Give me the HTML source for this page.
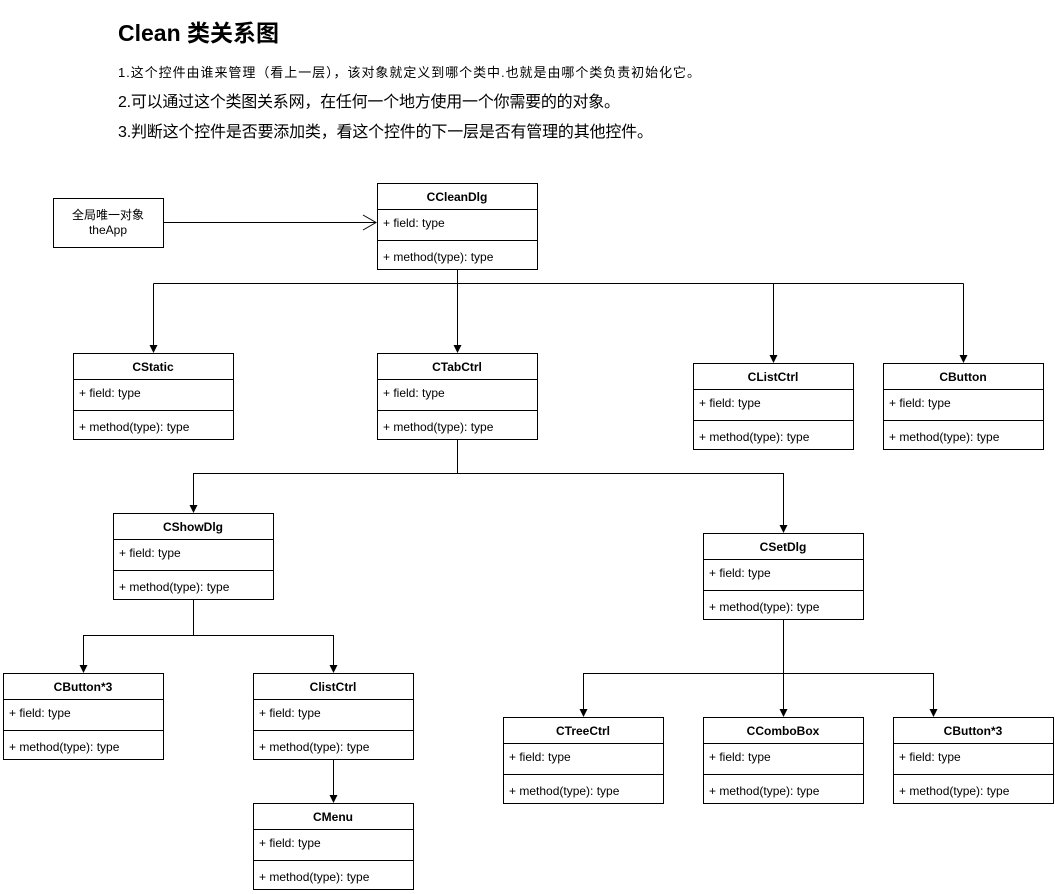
<!DOCTYPE html>
<html><head><meta charset="utf-8"><style>
html,body{margin:0;padding:0;background:#fff;}
svg{display:block;}
text{font-family:"Liberation Sans","Noto Sans CJK SC",sans-serif;fill:#000;}
</style></head><body>
<svg width="1055" height="894" viewBox="0 0 1055 894" xmlns="http://www.w3.org/2000/svg">
<text x="118" y="41" font-size="23" font-weight="bold">Clean 类关系图</text>
<text x="118" y="77" font-size="13" textLength="582">1.这个控件由谁来管理（看上一层），该对象就定义到哪个类中.也就是由哪个类负责初始化它。</text>
<text x="118" y="107" font-size="16" textLength="502">2.可以通过这个类图关系网，在任何一个地方使用一个你需要的的对象。</text>
<text x="118" y="137" font-size="16" textLength="535">3.判断这个控件是否要添加类，看这个控件的下一层是否有管理的其他控件。</text>

<g fill="none" stroke="#000" stroke-width="1">
<rect x="53.5" y="198.5" width="110" height="49"/>
<path d="M163.5 222.5 H376"/>
<path d="M363 215 L376 222.5 L363 230"/>
<path d="M457.5 269 V283.5 M153.5 283.5 H963.5"/>
<path d="M153.5 283.5 V346"/>
<path d="M457.5 283.5 V346"/>
<path d="M773.5 283.5 V356"/>
<path d="M963.5 283.5 V356"/>
<path d="M457.5 439 V473.5 H783.5 V526"/>
<path d="M457.5 473.5 H193.5 V506"/>
<path d="M193.5 599 V635.5 H83.5 V666"/>
<path d="M193.5 635.5 H333.5 V666"/>
<path d="M333.5 759 V796"/>
<path d="M783.5 619 V673.5 H583.5 V710"/>
<path d="M783.5 673.5 V710"/>
<path d="M783.5 673.5 H933.5 V710"/>
</g>
<g fill="#000">
<path d="M149.5 345 h8 l-4 8z"/>
<path d="M453.5 345 h8 l-4 8z"/>
<path d="M769.5 355 h8 l-4 8z"/>
<path d="M959.5 355 h8 l-4 8z"/>
<path d="M189.5 505 h8 l-4 8z"/>
<path d="M779.5 525 h8 l-4 8z"/>
<path d="M79.5 665 h8 l-4 8z"/>
<path d="M329.5 665 h8 l-4 8z"/>
<path d="M329.5 795 h8 l-4 8z"/>
<path d="M579.5 709 h8 l-4 8z"/>
<path d="M779.5 709 h8 l-4 8z"/>
<path d="M929.5 709 h8 l-4 8z"/>
</g>
<text x="108" y="219" font-size="12" text-anchor="middle">全局唯一对象</text>
<text x="108" y="234" font-size="12" text-anchor="middle">theApp</text>

<g font-size="12">
<g transform="translate(377,183)"><rect x="0.5" y="0.5" width="160" height="86" fill="#fff" stroke="#000"/><path d="M0.5 26.5h160M0.5 57.5h160" stroke="#000"/><text x="80" y="18" font-weight="bold" text-anchor="middle">CCleanDlg</text><text x="6" y="44">+ field: type</text><text x="6" y="78">+ method(type): type</text></g>
<g transform="translate(73,353)"><rect x="0.5" y="0.5" width="160" height="86" fill="#fff" stroke="#000"/><path d="M0.5 26.5h160M0.5 57.5h160" stroke="#000"/><text x="80" y="18" font-weight="bold" text-anchor="middle">CStatic</text><text x="6" y="44">+ field: type</text><text x="6" y="78">+ method(type): type</text></g>
<g transform="translate(377,353)"><rect x="0.5" y="0.5" width="160" height="86" fill="#fff" stroke="#000"/><path d="M0.5 26.5h160M0.5 57.5h160" stroke="#000"/><text x="80" y="18" font-weight="bold" text-anchor="middle">CTabCtrl</text><text x="6" y="44">+ field: type</text><text x="6" y="78">+ method(type): type</text></g>
<g transform="translate(693,363)"><rect x="0.5" y="0.5" width="160" height="86" fill="#fff" stroke="#000"/><path d="M0.5 26.5h160M0.5 57.5h160" stroke="#000"/><text x="80" y="18" font-weight="bold" text-anchor="middle">CListCtrl</text><text x="6" y="44">+ field: type</text><text x="6" y="78">+ method(type): type</text></g>
<g transform="translate(883,363)"><rect x="0.5" y="0.5" width="160" height="86" fill="#fff" stroke="#000"/><path d="M0.5 26.5h160M0.5 57.5h160" stroke="#000"/><text x="80" y="18" font-weight="bold" text-anchor="middle">CButton</text><text x="6" y="44">+ field: type</text><text x="6" y="78">+ method(type): type</text></g>
<g transform="translate(113,513)"><rect x="0.5" y="0.5" width="160" height="86" fill="#fff" stroke="#000"/><path d="M0.5 26.5h160M0.5 57.5h160" stroke="#000"/><text x="80" y="18" font-weight="bold" text-anchor="middle">CShowDlg</text><text x="6" y="44">+ field: type</text><text x="6" y="78">+ method(type): type</text></g>
<g transform="translate(703,533)"><rect x="0.5" y="0.5" width="160" height="86" fill="#fff" stroke="#000"/><path d="M0.5 26.5h160M0.5 57.5h160" stroke="#000"/><text x="80" y="18" font-weight="bold" text-anchor="middle">CSetDlg</text><text x="6" y="44">+ field: type</text><text x="6" y="78">+ method(type): type</text></g>
<g transform="translate(3,673)"><rect x="0.5" y="0.5" width="160" height="86" fill="#fff" stroke="#000"/><path d="M0.5 26.5h160M0.5 57.5h160" stroke="#000"/><text x="80" y="18" font-weight="bold" text-anchor="middle">CButton*3</text><text x="6" y="44">+ field: type</text><text x="6" y="78">+ method(type): type</text></g>
<g transform="translate(253,673)"><rect x="0.5" y="0.5" width="160" height="86" fill="#fff" stroke="#000"/><path d="M0.5 26.5h160M0.5 57.5h160" stroke="#000"/><text x="80" y="18" font-weight="bold" text-anchor="middle">ClistCtrl</text><text x="6" y="44">+ field: type</text><text x="6" y="78">+ method(type): type</text></g>
<g transform="translate(253,803)"><rect x="0.5" y="0.5" width="160" height="86" fill="#fff" stroke="#000"/><path d="M0.5 26.5h160M0.5 57.5h160" stroke="#000"/><text x="80" y="18" font-weight="bold" text-anchor="middle">CMenu</text><text x="6" y="44">+ field: type</text><text x="6" y="78">+ method(type): type</text></g>
<g transform="translate(503,717)"><rect x="0.5" y="0.5" width="160" height="86" fill="#fff" stroke="#000"/><path d="M0.5 26.5h160M0.5 57.5h160" stroke="#000"/><text x="80" y="18" font-weight="bold" text-anchor="middle">CTreeCtrl</text><text x="6" y="44">+ field: type</text><text x="6" y="78">+ method(type): type</text></g>
<g transform="translate(703,717)"><rect x="0.5" y="0.5" width="160" height="86" fill="#fff" stroke="#000"/><path d="M0.5 26.5h160M0.5 57.5h160" stroke="#000"/><text x="80" y="18" font-weight="bold" text-anchor="middle">CComboBox</text><text x="6" y="44">+ field: type</text><text x="6" y="78">+ method(type): type</text></g>
<g transform="translate(893,717)"><rect x="0.5" y="0.5" width="160" height="86" fill="#fff" stroke="#000"/><path d="M0.5 26.5h160M0.5 57.5h160" stroke="#000"/><text x="80" y="18" font-weight="bold" text-anchor="middle">CButton*3</text><text x="6" y="44">+ field: type</text><text x="6" y="78">+ method(type): type</text></g>
</g>
</svg>
</body></html>
